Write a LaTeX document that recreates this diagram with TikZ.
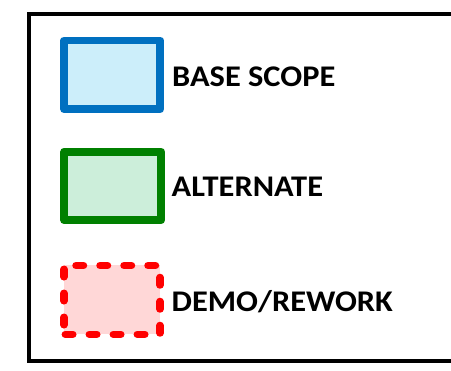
\documentclass[tikz,border=0pt]{standalone}
\usepackage{fontspec}
\setmainfont{Carlito}
\newfontfamily\legendfont[FakeStretch=1.08]{Carlito}
\definecolor{basestroke}{RGB}{0,112,192}
\definecolor{basefill}{RGB}{204,238,250}
\definecolor{altstroke}{RGB}{0,128,0}
\definecolor{altfill}{RGB}{204,238,218}
\definecolor{demostroke}{RGB}{255,0,0}
\definecolor{demofill}{RGB}{255,215,215}
\begin{document}
\begin{tikzpicture}[x=1pt,y=-1pt,
  legendtext/.style={anchor=base west,inner sep=0pt,font=\legendfont\fontsize{30}{32}\selectfont\bfseries},
  swatch/.style={line width=7.8pt,line join=round},
  demodash/.style={line width=7.5pt,line cap=round,color=demostroke}]
\useasboundingbox (0,0) rectangle (451,371);
% outer frame (right edge lies outside the picture)
\draw[line width=4.2pt] (28.8,13.7) rectangle (470,361);
% base scope
\draw[swatch,draw=basestroke,fill=basefill] (64.2,40.5) rectangle (160.3,109.3);
\node[legendtext] (base) at (172,86.7) {BASE SCOPE};
% alternate
\draw[swatch,draw=altstroke,fill=altfill] (64.2,151.7) rectangle (161.3,220.2);
\node[legendtext] (alt) at (171.5,196.7) {ALTERNATE};
% demo/rework
\fill[demofill] (64,265.5) rectangle (160,334.3);
\draw[demodash,dash pattern=on 7.5pt off 16.5pt,dash phase=12pt]
  (64,265.5) -- (160,265.5) -- (160,334.3) -- (64,334.3);
\draw[demodash,dash pattern=on 7.5pt off 16.5pt,dash phase=14.5pt]
  (64,334.3) -- (64,265.5);
\node[legendtext] (demo) at (171.5,311.7) {DEMO/REWORK};
\end{tikzpicture}
\end{document}
